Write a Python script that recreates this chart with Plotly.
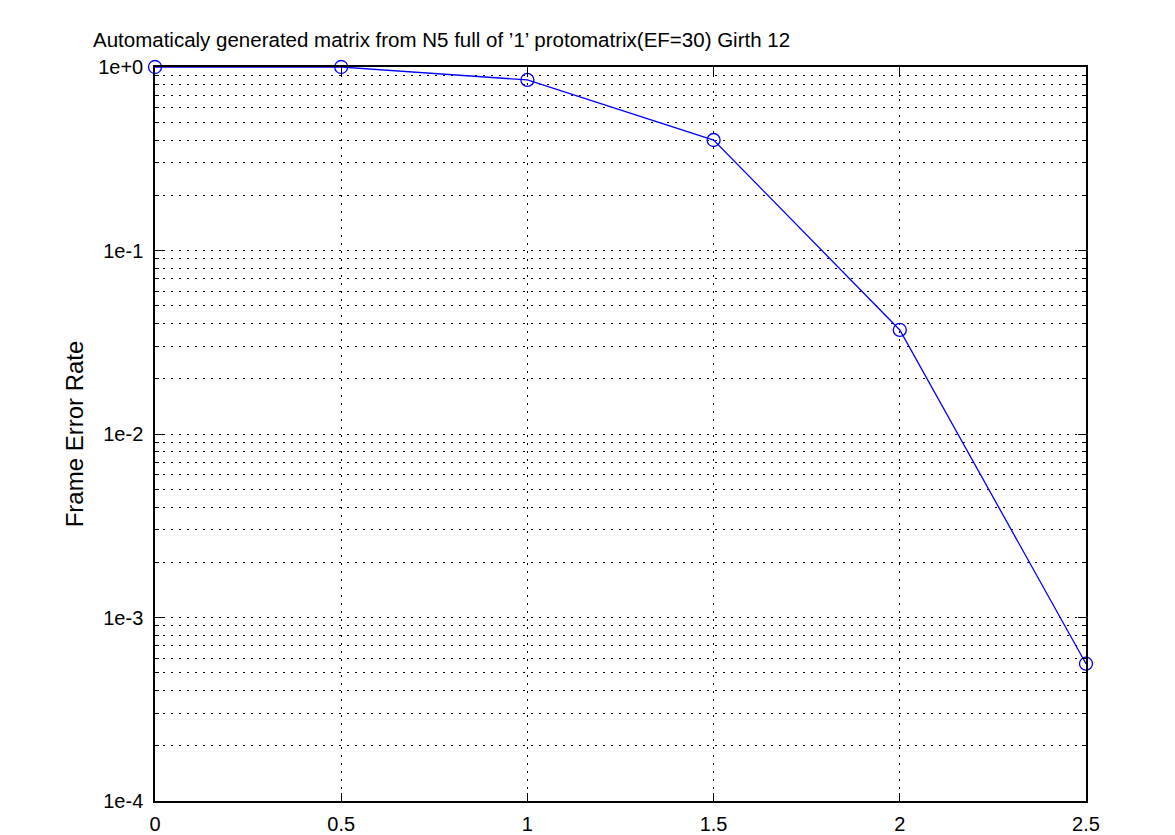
import plotly.graph_objects as go

snr = [0, 0.5, 1, 1.5, 2, 2.5]
fer = [1.0, 1.0, 0.85, 0.40, 0.0369, 5.6e-4]

y_tick_vals = [1e-4, 1e-3, 1e-2, 1e-1, 1e0]
y_tick_text = ["1e-4", "1e-3", "1e-2", "1e-1", "1e+0"]
x_tick_vals = [0, 0.5, 1, 1.5, 2, 2.5]
x_tick_text = ["0", "0.5", "1", "1.5", "2", "2.5"]

title = "Automaticaly generated matrix from N5 full of \u20191\u2019 protomatrix(EF=30) Girth 12"

fig = go.Figure()
fig.add_trace(
    go.Scatter(
        x=snr,
        y=fer,
        mode="lines+markers",
        line={"color": "#0000FF", "width": 1.3},
        marker={"symbol": "circle-open", "size": 13, "color": "#0000FF", "line": {"width": 1.3}},
        cliponaxis=False,
        showlegend=False,
    )
)

grid = {"showgrid": True, "gridcolor": "#000000", "gridwidth": 1, "griddash": "2px,6px"}

fig.update_xaxes(
    range=[0, 2.5],
    tickvals=x_tick_vals,
    ticktext=x_tick_text,
    ticks="inside",
    ticklen=8,
    tickcolor="black",
    ticklabelstandoff=4,
    showline=True,
    linecolor="black",
    linewidth=1.5,
    mirror="allticks",
    zeroline=False,
    automargin=False,
    **grid,
)
fig.update_yaxes(
    type="log",
    range=[-4, 0],
    tickvals=y_tick_vals,
    ticktext=y_tick_text,
    ticks="inside",
    ticklen=8,
    tickcolor="black",
    ticklabelstandoff=6,
    showline=True,
    linecolor="black",
    linewidth=1.5,
    mirror="allticks",
    zeroline=False,
    automargin=False,
    title={"text": "Frame Error Rate", "standoff": 8},
    minor={"dtick": "D1", "ticks": "inside", "ticklen": 4, "tickcolor": "black",
           "showgrid": True, "gridcolor": "#000000", "griddash": "2px,6px"},
    **grid,
)

fig.update_layout(
    width=1175,
    height=835,
    plot_bgcolor="white",
    paper_bgcolor="white",
    font={"family": "Liberation Sans, Arial, sans-serif", "size": 20, "color": "black"},
    title={"text": title, "x": 85 / 1175, "xanchor": "left", "y": 1 - 32 / 835,
           "yanchor": "middle", "font": {"size": 20.5}},
    margin={"l": 147, "r": 97, "t": 59, "b": 42},
)

fig.write_html("out.html")
